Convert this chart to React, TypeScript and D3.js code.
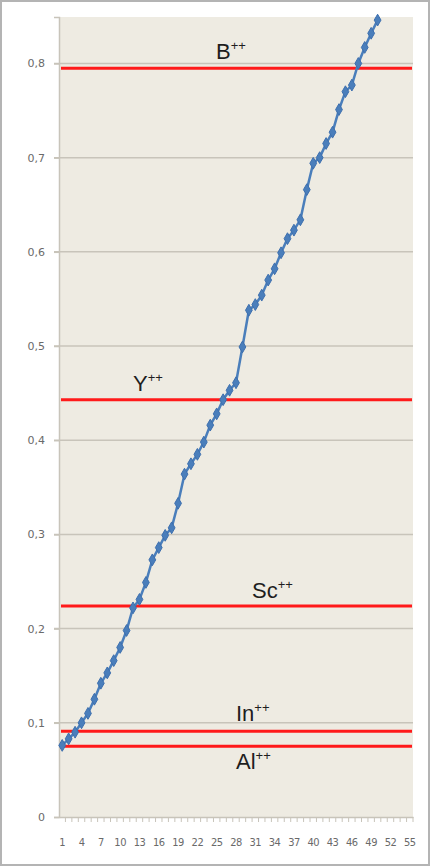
import { useEffect, useRef } from 'react';
import * as d3 from 'd3';

// measured values, one per sample (1..50)
const values = [
  0.076, 0.083, 0.09, 0.1, 0.11, 0.125, 0.142, 0.153, 0.166, 0.18,
  0.198, 0.222, 0.231, 0.249, 0.273, 0.286, 0.299, 0.307, 0.333, 0.364,
  0.375, 0.385, 0.398, 0.416, 0.428, 0.443, 0.453, 0.461, 0.499, 0.538,
  0.544, 0.554, 0.57, 0.582, 0.599, 0.614, 0.623, 0.634, 0.666, 0.694,
  0.7, 0.715, 0.727, 0.751, 0.77, 0.777, 0.8, 0.817, 0.832, 0.846,
];

// x categories 1..55
const categories = d3.range(1, 56);

const yTicks = [0, 0.1, 0.2, 0.3, 0.4, 0.5, 0.6, 0.7, 0.8];

// reference levels of the ions
const levelNames = ['Al', 'In', 'Sc', 'Y', 'B'];
const levelValues = [0.075, 0.091, 0.224, 0.443, 0.795];
const levelLabelX = [236, 236, 252, 133, 216];
const levelLabelDy = [23, -10, -8, -9, -9];

const Chart = ({ width = 430, height = 866 }) => {
  const svgRef = useRef(null);

  useEffect(() => {
    document.body.style.margin = '0';
    const svg = d3.select(svgRef.current);
    svg.selectAll('*').remove();

    const plot = { left: 59, right: 413, top: 17, bottom: 817 };

    // frame
    svg.append('rect')
      .attr('x', 1).attr('y', 1)
      .attr('width', width - 2).attr('height', height - 2)
      .attr('fill', '#fff')
      .attr('stroke', '#b4b4b4')
      .attr('stroke-width', 2);

    const x = d3.scaleBand()
      .domain(categories.map(String))
      .range([plot.left, plot.right])
      .padding(0);

    const y = d3.scaleLinear()
      .domain([0, 0.8493])
      .range([plot.bottom, plot.top]);

    // plot background
    svg.append('rect')
      .attr('x', plot.left).attr('y', plot.top)
      .attr('width', plot.right - plot.left)
      .attr('height', plot.bottom - plot.top)
      .attr('fill', '#eeebe2');

    // grid lines
    svg.append('g')
      .selectAll('line')
      .data(yTicks.filter(d => d > 0))
      .enter()
      .append('line')
      .attr('x1', plot.left - 5).attr('x2', plot.right)
      .attr('y1', d => y(d)).attr('y2', d => y(d))
      .attr('stroke', '#c8c4ba')
      .attr('stroke-width', 1.5);

    // y axis
    const yAxis = svg.append('g')
      .attr('transform', `translate(${plot.left},0)`)
      .call(d3.axisLeft(y)
        .tickValues(yTicks)
        .tickSize(5)
        .tickPadding(9)
        .tickFormat(d => (d === 0 ? '0' : d3.format('.1f')(d).replace('.', ','))));

    yAxis.selectAll('text')
      .style('font-family', 'DejaVu Sans, sans-serif')
      .style('font-size', '11px')
      .style('fill', '#6a6a6a');

    // x axis
    const xAxis = svg.append('g')
      .attr('transform', `translate(0,${plot.bottom})`)
      .call(d3.axisBottom(x)
        .tickValues(categories.filter((d, i) => i % 3 === 0).map(String))
        .tickSize(0)
        .tickPadding(21));

    xAxis.selectAll('text')
      .style('font-family', 'DejaVu Sans Condensed, DejaVu Sans, sans-serif')
      .style('font-size', '11px')
      .style('letter-spacing', '-0.5px')
      .style('fill', '#6a6a6a');

    // minor ticks between categories
    svg.append('g')
      .selectAll('line')
      .data(categories)
      .enter()
      .append('line')
      .attr('x1', d => x(String(d)) + x.bandwidth())
      .attr('x2', d => x(String(d)) + x.bandwidth())
      .attr('y1', plot.bottom)
      .attr('y2', plot.bottom + 5)
      .attr('stroke', '#c8c4ba');

    svg.selectAll('.domain, .tick line')
      .attr('stroke', '#c8c4ba')
      .attr('stroke-width', 1.5);

    // red reference lines
    svg.append('g')
      .selectAll('line')
      .data(levelValues)
      .enter()
      .append('line')
      .attr('x1', plot.left + 2).attr('x2', plot.right - 1)
      .attr('y1', d => y(d)).attr('y2', d => y(d))
      .attr('stroke', '#ff1a1a')
      .attr('stroke-width', 3);

    // ion labels
    const labels = svg.append('g')
      .selectAll('text')
      .data(levelNames)
      .enter()
      .append('text')
      .attr('x', (d, i) => levelLabelX[i])
      .attr('y', (d, i) => y(levelValues[i]) + levelLabelDy[i])
      .style('font-family', 'Liberation Sans, Arial, sans-serif')
      .style('font-size', '22px')
      .style('fill', '#1e1e1e');

    labels.append('tspan').text(d => d);
    labels.append('tspan')
      .attr('dy', -9)
      .style('font-size', '13px')
      .text('++');

    // data line
    const line = d3.line()
      .x((d, i) => x(String(categories[i])) + x.bandwidth() / 2)
      .y(d => y(d));

    svg.append('path')
      .datum(values)
      .attr('d', line)
      .attr('fill', 'none')
      .attr('stroke', '#4a7ebb')
      .attr('stroke-width', 2.5);

    svg.append('g')
      .selectAll('path')
      .data(values)
      .enter()
      .append('path')
      .attr('d', d3.symbol().type(d3.symbolDiamond).size(40))
      .attr('transform', (d, i) =>
        `translate(${x(String(categories[i])) + x.bandwidth() / 2},${y(d)})`)
      .attr('fill', '#4a7ebb')
      .attr('stroke', '#3d6fae')
      .attr('stroke-width', 1);
  }, [width, height]);

  return <svg ref={svgRef} width={width} height={height} style={{ display: 'block' }} />;
};

export default function App() {
  return <Chart />;
}
